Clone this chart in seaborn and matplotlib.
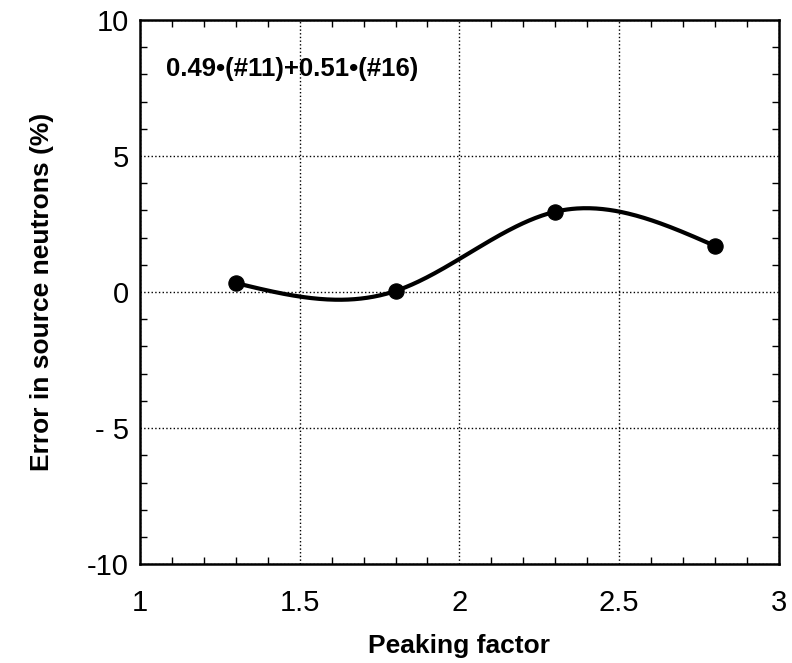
import numpy as np
import pandas as pd
import matplotlib
matplotlib.use("Agg")
import matplotlib.pyplot as plt
import seaborn as sns
from matplotlib.ticker import MultipleLocator, FuncFormatter

peaking = [1.3, 1.8, 2.3, 2.8]
error = [0.33, 0.04, 2.95, 1.7]
annotation = "0.49•(#11)+0.51•(#16)"

sns.set_theme(style="white")
plt.rcParams['font.family'] = ['Liberation Sans', 'DejaVu Sans']
plt.rcParams['text.color'] = 'black'
plt.rcParams['axes.labelcolor'] = 'black'


def natural_spline(x, y, xs):
    x = np.asarray(x, float); y = np.asarray(y, float)
    n = len(x)
    h = np.diff(x)
    A = np.zeros((n, n)); b = np.zeros(n)
    A[0, 0] = 1; A[-1, -1] = 1
    for i in range(1, n - 1):
        A[i, i - 1] = h[i - 1]; A[i, i] = 2 * (h[i - 1] + h[i]); A[i, i + 1] = h[i]
        b[i] = 3 * ((y[i + 1] - y[i]) / h[i] - (y[i] - y[i - 1]) / h[i - 1])
    c = np.linalg.solve(A, b)
    out = np.empty_like(xs)
    for k, xv in enumerate(xs):
        i = min(max(np.searchsorted(x, xv) - 1, 0), n - 2)
        dx = xv - x[i]
        bi = (y[i + 1] - y[i]) / h[i] - h[i] * (2 * c[i] + c[i + 1]) / 3
        di = (c[i + 1] - c[i]) / (3 * h[i])
        out[k] = y[i] + bi * dx + c[i] * dx ** 2 + di * dx ** 3
    return out


xs = np.linspace(peaking[0], peaking[-1], 300)
curve = pd.DataFrame({"x": xs, "y": natural_spline(peaking, error, xs)})
pts = pd.DataFrame({"x": peaking, "y": error})

fig = plt.figure(figsize=(7.92, 6.63), dpi=100)
ax = fig.add_axes([0.177, 0.149, 0.806, 0.821])
sns.lineplot(data=curve, x="x", y="y", ax=ax, color="black", linewidth=3)
sns.scatterplot(data=pts, x="x", y="y", ax=ax, color="black", s=120, edgecolor="black", zorder=5)

ax.set_xlim(1, 3)
ax.set_ylim(-10, 10)
ax.xaxis.set_major_locator(MultipleLocator(0.5))
ax.xaxis.set_minor_locator(MultipleLocator(0.1))
ax.yaxis.set_major_locator(MultipleLocator(5))
ax.yaxis.set_minor_locator(MultipleLocator(1))
ax.xaxis.set_major_formatter(FuncFormatter(lambda v, p: f"{v:g}"))
ax.yaxis.set_major_formatter(FuncFormatter(lambda v, p: "-10" if v == -10 else f"{v:g}".replace("-", "- ")))
ax.tick_params(which="both", direction="in", top=True, right=True, left=True, bottom=True,
               colors="black", labelcolor="black")
ax.tick_params(which="major", length=0, labelsize=21)
ax.tick_params(axis="x", which="major", pad=18)
ax.tick_params(axis="y", which="major", pad=8)
ax.tick_params(which="minor", length=5, width=1)
ax.grid(True, which="major", linestyle=":", color="black", linewidth=1)
for s in ax.spines.values():
    s.set_color("black"); s.set_linewidth(1.8)

ax.set_xlabel("Peaking factor", fontsize=19, fontweight="bold", labelpad=12, color="black")
ax.set_ylabel("Error in source neutrons (%)", fontsize=19, fontweight="bold", labelpad=24, color="black")
ax.text(1.08, 8.2, annotation, fontsize=18.5, fontweight="bold", va="center", ha="left", color="black")

fig.savefig("out.png", dpi=100)
